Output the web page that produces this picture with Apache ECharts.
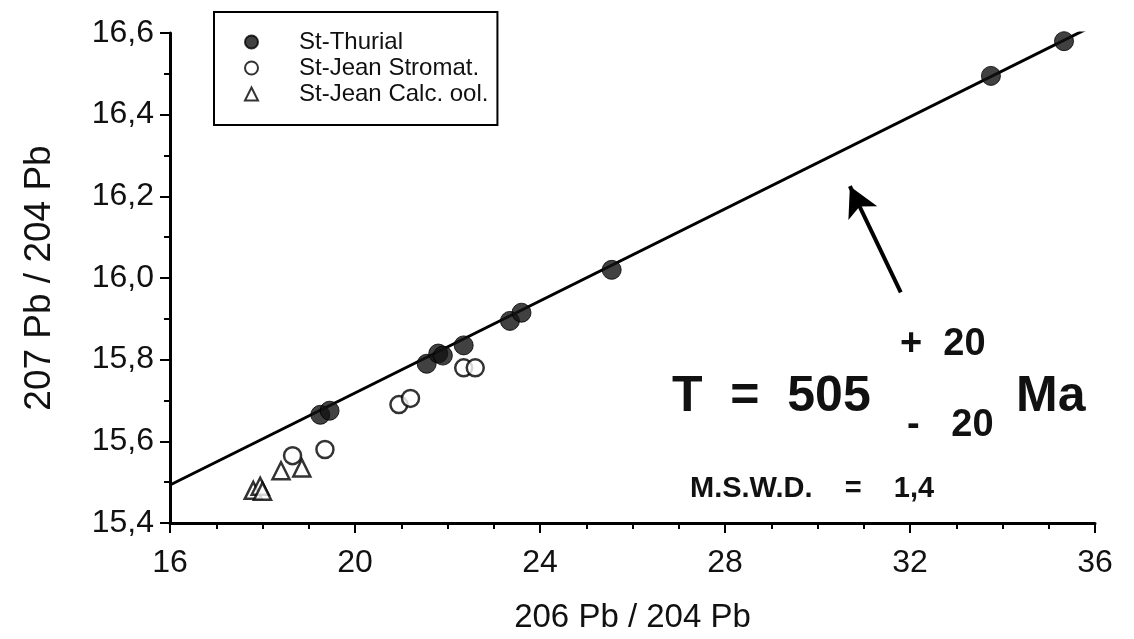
<!DOCTYPE html>
<html>
<head>
<meta charset="utf-8">
<script src="https://cdn.jsdelivr.net/npm/echarts@6/dist/echarts.min.js"></script>
<style>
  html, body { margin: 0; padding: 0; background: #fff; }
  #main { width: 1134px; height: 639px; }
</style>
</head>
<body>
<div id="main"></div>
<script>
// 206Pb/204Pb (x) and 207Pb/204Pb (y) for each sample group
var thurialX = [19.25, 19.45, 21.55, 21.8, 21.9, 22.35, 23.35, 23.6, 25.55, 33.75, 35.33];
var thurialY = [15.665, 15.675, 15.79, 15.815, 15.81, 15.835, 15.895, 15.915, 16.02, 16.495, 16.58];

var stromatX = [18.65, 19.35, 20.95, 21.2, 22.35, 22.6];
var stromatY = [15.565, 15.58, 15.69, 15.705, 15.78, 15.78];

var oolX = [17.8, 17.95, 18.0, 18.4, 18.85];
var oolY = [15.48, 15.49, 15.478, 15.528, 15.535];

// isochron line ends
var isoX = [16, 36];
var isoY = [15.493, 16.62];

// arrow from tail to head
var arrowX = [31.8, 30.7];
var arrowY = [15.965, 16.225];

function pairs(xs, ys) {
    var out = [];
    for (var i = 0; i < xs.length; i++) {
        out.push([xs[i], ys[i]]);
    }
    return out;
}

var font = 'Liberation Sans';
var chart = echarts.init(document.getElementById('main'));

chart.setOption({
    backgroundColor: '#fff',
    animation: false,
    grid: { left: 170, right: 39, top: 33, bottom: 114 },
    legend: {
        orient: 'vertical',
        left: 214,
        top: 12,
        padding: [17, 9, 18, 30],
        itemGap: 0,
        itemWidth: 13,
        itemHeight: 13,
        borderColor: '#000',
        borderWidth: 2,
        backgroundColor: '#fff',
        textStyle: { fontFamily: font, fontSize: 24, lineHeight: 26, color: '#111', padding: [0, 0, 0, 36] },
        data: ['St-Thurial', 'St-Jean Stromat.', 'St-Jean Calc. ool.']
    },
    xAxis: {
        type: 'value',
        min: 16,
        max: 36,
        interval: 4,
        name: '206 Pb / 204 Pb',
        nameLocation: 'middle',
        nameGap: 78,
        nameTextStyle: { fontFamily: font, fontSize: 33, color: '#111' },
        axisLine: { onZero: false, lineStyle: { color: '#000', width: 3 } },
        axisTick: { length: 10, lineStyle: { color: '#000', width: 2 } },
        minorTick: { show: true, splitNumber: 4, length: 6, lineStyle: { color: '#000', width: 2 } },
        splitLine: { show: false },
        axisLabel: { fontFamily: font, fontSize: 32, color: '#111', margin: 24 }
    },
    yAxis: {
        type: 'value',
        min: 15.4,
        max: 16.6,
        interval: 0.2,
        name: '207 Pb / 204 Pb',
        nameLocation: 'middle',
        nameRotate: 90,
        nameGap: 112,
        nameTextStyle: { fontFamily: font, fontSize: 37, color: '#111' },
        axisLine: { show: true, lineStyle: { color: '#000', width: 3 } },
        axisTick: { show: true, length: 10, lineStyle: { color: '#000', width: 2 } },
        minorTick: { show: true, splitNumber: 2, length: 6, lineStyle: { color: '#000', width: 2 } },
        splitLine: { show: false },
        axisLabel: {
            fontFamily: font, fontSize: 32, color: '#111', margin: 16,
            formatter: function (v) { return v.toFixed(1).replace('.', ','); }
        }
    },
    series: [
        {
            name: 'isochron',
            type: 'line',
            data: pairs(isoX, isoY),
            symbol: 'none',
            lineStyle: { color: '#000', width: 3 },
            z: 1,
            markLine: {
                silent: true,
                symbol: ['none', 'arrow'],
                symbolSize: [24, 30],
                lineStyle: { color: '#000', width: 4, type: 'solid' },
                label: { show: false },
                data: [[{ coord: [arrowX[0], arrowY[0]] }, { coord: [arrowX[1], arrowY[1]] }]]
            }
        },
        {
            name: 'St-Jean Calc. ool.',
            type: 'scatter',
            data: pairs(oolX, oolY),
            symbol: 'triangle',
            symbolSize: 17,
            itemStyle: { color: '#fff', borderColor: '#000', borderWidth: 2.5 },
            z: 3
        },
        {
            name: 'St-Jean Stromat.',
            type: 'scatter',
            data: pairs(stromatX, stromatY),
            symbol: 'circle',
            symbolSize: 17,
            itemStyle: { color: '#fff', borderColor: '#000', borderWidth: 2.5 },
            z: 3
        },
        {
            name: 'St-Thurial',
            type: 'scatter',
            data: pairs(thurialX, thurialY),
            symbol: 'circle',
            symbolSize: 19,
            itemStyle: { color: '#111', borderColor: '#000', borderWidth: 1 },
            z: 4
        }
    ],
    graphic: [
        { type: 'text', left: 672, top: 372, style: { text: 'T  =  505', fontFamily: font, fontWeight: 'bold', fontSize: 50, fill: '#111' } },
        { type: 'text', left: 900, top: 326, style: { text: '+  20', fontFamily: font, fontWeight: 'bold', fontSize: 38, fill: '#111' } },
        { type: 'text', left: 907, top: 407, style: { text: '-   20', fontFamily: font, fontWeight: 'bold', fontSize: 38, fill: '#111' } },
        { type: 'text', left: 1016, top: 372, style: { text: 'Ma', fontFamily: font, fontWeight: 'bold', fontSize: 50, fill: '#111' } },
        { type: 'text', left: 690, top: 474, style: { text: 'M.S.W.D.    =    1,4', fontFamily: font, fontWeight: 'bold', fontSize: 29, fill: '#111' } }
    ]
});
</script>
</body>
</html>
